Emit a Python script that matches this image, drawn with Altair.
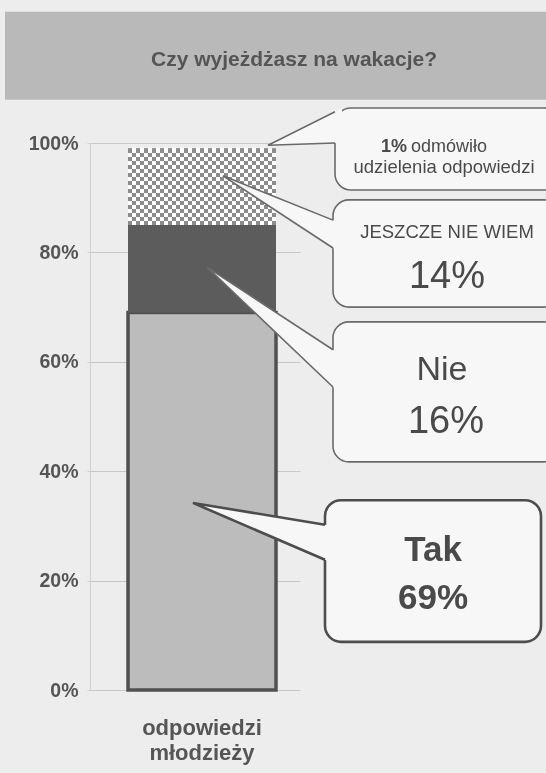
import altair as alt
import pandas as pd

# ---- data ----
answers = ["Tak", "Nie", "Jeszcze nie wiem", "Odmowa"]
shares = [69, 16, 14, 1]
group = "odpowiedzi młodzieży"
y_ticks = [0, 20, 40, 60, 80, 100]
title_text = "Czy wyjeżdżasz na wakacje?"

# callout bubbles (x in plot-width units 0..210, y in percent)
bubble_x1 = [245, 243, 243, 235]
bubble_x2 = [470, 470, 470, 451]
bubble_y1 = [106.4, 89.6, 67.3, 34.7]
bubble_y2 = [91.4, 70.0, 41.7, 8.8]
bubble_stroke = ["#6a6a6a", "#6a6a6a", "#6a6a6a", "#4d4d4d"]
bubble_width = [1.6, 1.6, 1.6, 2.6]

# pointers of the bubbles
tip_x = [178, 133, 117, 103]
tip_y = [99.6, 94.0, 77.3, 34.2]
base_x = [245, 243, 243, 235]
base_top = [105.7, 85.9, 62.2, 30.2]
base_bottom = [100.0, 80.8, 55.4, 23.8]

# callout texts
text_normal = ["udzielenia odpowiedzi", "JESZCZE NIE WIEM", "14%", "Nie", "16%"]
text_normal_x = [354, 357, 357, 352, 356]
text_normal_y = [95.6, 83.7, 75.5, 58.5, 49.0]
text_normal_size = [18.5, 18.5, 38, 34, 38]
text_bold = ["Tak", "69%"]
text_bold_x = [343, 343]
text_bold_y = [25.6, 16.8]
text_bold_size = [35, 35]

FONT = "Liberation Sans"
TXT = "#4a4a4a"

df = pd.DataFrame({"group": [group] * len(answers), "answer": answers,
                   "share": shares, "k": list(range(len(answers)))})

xband = alt.Scale(paddingInner=0, paddingOuter=0.2095, align=0.613)
ydom = alt.Scale(domain=[0, 100])

XA = alt.Axis(title=None, domain=False, ticks=False, labelExpr="split(datum.label, ' ')",
              labelFont=FONT, labelFontSize=22, labelFontWeight="bold", labelColor="#555555",
              labelPadding=27, labelLineHeight=25, labelAngle=0)
YA = alt.Axis(values=y_ticks, labelExpr="datum.value + '%'", title=None,
              labelFont=FONT, labelFontSize=19.5, labelFontWeight="bold", labelColor="#555555",
              labelPadding=9, tickSize=3, tickColor="#cfcfcf", domainColor="#cfcfcf",
              gridColor="#c8c8c8", grid=True)

base = alt.Chart(df).transform_window(
    top="sum(share)", sort=[alt.SortField("k", order="ascending")], frame=[None, 0]
).transform_calculate(bottom="datum.top - datum.share")


def seg(name):
    return base.transform_filter(alt.datum.answer == name)


def enc(c):
    return c.encode(x=alt.X("group:N", scale=xband, axis=XA),
                    y=alt.Y("bottom:Q", scale=ydom, axis=YA), y2="top:Q")


def stripes(n, c1, c2, along_x):
    stops = []
    for i in range(n):
        c = c1 if i % 2 == 0 else c2
        stops.append(alt.GradientStop(offset=i / n, color=c))
        stops.append(alt.GradientStop(offset=(i + 1) / n, color=c))
    if along_x:
        return alt.Gradient(gradient="linear", stops=stops, x1=0, x2=1, y1=0, y2=0)
    return alt.Gradient(gradient="linear", stops=stops, x1=0, x2=0, y1=0, y2=1)


tak = enc(seg("Tak").mark_bar(fill="#bcbcbc", stroke="#505050", strokeWidth=3.5))
nie = enc(seg("Nie").mark_bar(fill="#5c5c5c"))
chk_a = enc(seg("Jeszcze nie wiem").mark_bar(fill=stripes(37, "#000000", "#ffffff", True)))
chk_b = enc(seg("Jeszcze nie wiem").mark_bar(fill=stripes(19, "#000000", "#ffffff", False), blend="difference"))
chk_c = enc(seg("Jeszcze nie wiem").mark_bar(fill="#8c8c8c", blend="screen"))

bars = alt.layer(tak, nie, chk_a, chk_b, chk_c)

# ---- annotations ----
xq = alt.Scale(domain=[0, 210])


def Y(f):
    return alt.Y(f, scale=ydom, axis=YA)


band_df = pd.DataFrame({"x": [-85], "x2": [470], "y": [107.9], "y2": [124.0]})
band = alt.Chart(band_df).mark_rect(fill="#b9b9b9").encode(
    x=alt.X("x:Q", scale=xq, axis=None), x2="x2", y=Y("y:Q"), y2="y2")
title = alt.Chart(pd.DataFrame({"t": [title_text], "x": [204], "y": [115.2]})).mark_text(
    font=FONT, fontSize=21, fontWeight="bold", color="#555555", baseline="middle").encode(
    x=alt.X("x:Q", scale=xq, axis=None), y=Y("y:Q"), text="t:N")

bub_df = pd.DataFrame({"x": bubble_x1, "x2": bubble_x2, "y": bubble_y1, "y2": bubble_y2,
                       "s": bubble_stroke, "w": bubble_width})
bubbles = alt.Chart(bub_df).mark_rect(fill="#f7f7f7", cornerRadius=16).encode(
    x=alt.X("x:Q", scale=xq, axis=None), x2="x2", y=Y("y:Q"), y2="y2",
    stroke=alt.Stroke("s:N", scale=None), strokeWidth=alt.StrokeWidth("w:Q", scale=None))

fill_rows, edge_rows = [], []
for i in range(len(tip_x)):
    L = base_x[i] - tip_x[i]
    f = (L + 7) / L
    fill_rows.append({"id": i, "x": tip_x[i], "y": tip_y[i], "y2": tip_y[i]})
    fill_rows.append({"id": i, "x": base_x[i] + 7,
                      "y": tip_y[i] + (base_top[i] - tip_y[i]) * f,
                      "y2": tip_y[i] + (base_bottom[i] - tip_y[i]) * f})
    for k, (xx, yy) in enumerate([(base_x[i], base_top[i]), (tip_x[i], tip_y[i]),
                                  (base_x[i], base_bottom[i])]):
        edge_rows.append({"id": i, "k": k, "x": xx, "y": yy,
                          "s": bubble_stroke[i], "w": bubble_width[i]})

ptr_fill = alt.Chart(pd.DataFrame(fill_rows)).mark_area(fill="#f7f7f7").encode(
    x=alt.X("x:Q", scale=xq, axis=None), y=Y("y:Q"), y2="y2", detail="id:N")
ptr_edge = alt.Chart(pd.DataFrame(edge_rows)).mark_line().encode(
    x=alt.X("x:Q", scale=xq, axis=None), y=Y("y:Q"),
    order="k:Q", detail="id:N",
    color=alt.Color("s:N", scale=None), strokeWidth=alt.StrokeWidth("w:Q", scale=None))


def texts(t, xs, ys, sizes, weight, align):
    d = pd.DataFrame({"t": t, "x": xs, "y": ys, "sz": sizes})
    return alt.Chart(d).mark_text(font=FONT, fontWeight=weight, align=align, baseline="middle",
                                  color=TXT).encode(
        x=alt.X("x:Q", scale=xq, axis=None), y=Y("y:Q"),
        text="t:N", size=alt.Size("sz:Q", scale=None))


t1 = texts(["1%"], [317], [99.3], [18], "bold", "right")
t2 = texts(["odmówiło"], [321], [99.3], [18], "normal", "left")
t3 = texts(text_normal, text_normal_x, text_normal_y, text_normal_size, "normal", "center")
t4 = texts(text_bold, text_bold_x, text_bold_y, text_bold_size, "bold", "center")

annot = alt.layer(band, title, bubbles, ptr_fill, ptr_edge, t1, t2, t3, t4)

chart = alt.layer(bars, annot).resolve_scale(x="independent").properties(
    width=210, height=547,
    padding={"left": 90, "top": 143, "right": 246, "bottom": 83},
    autosize=alt.AutoSizeParams(type="none"),
    background="#ededed",
).configure_view(stroke=None)

chart.save("out.html", embed_options={"renderer": "svg", "actions": False})
